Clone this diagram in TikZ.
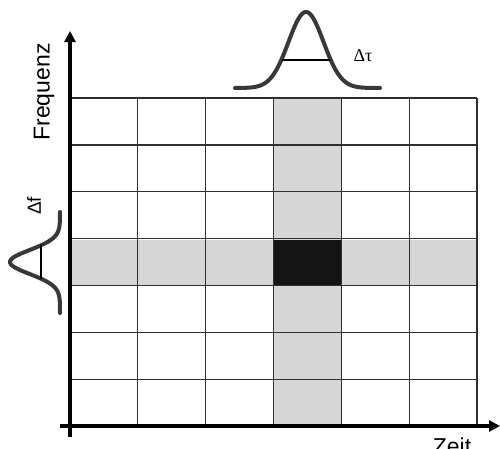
\documentclass[tikz,border=0pt]{standalone}
\usepackage{fontspec}
\setmainfont{Liberation Serif}
\setsansfont{Liberation Sans}
\usetikzlibrary{arrows.meta}
\definecolor{cellgray}{HTML}{D6D6D6}
\definecolor{cellblack}{HTML}{141414}
\definecolor{gridcol}{HTML}{303030}
\definecolor{curvecol}{HTML}{383838}
\tikzset{
  gridline/.style={draw=gridcol, line width=1.3pt},
  axisline/.style={draw=black, line width=3.5pt, -{Triangle[length=11pt,width=11pt]}},
  gauss/.style={draw=curvecol, line width=4pt, line cap=round},
  gaussbar/.style={draw=black, line width=2.2pt},
  axlabel/.style={font=\sffamily\fontsize{23}{23}\selectfont, inner sep=0pt},
}
\begin{document}
\begin{tikzpicture}[x=1pt, y=-1pt]
\useasboundingbox (0,0) rectangle (500,448);
\fill[white] (0,0) rectangle (500,448);
% highlighted column and row
\fill[cellgray] (273.2,98) rectangle (341,426);
\fill[cellgray] (70,239.6) rectangle (477,285.4);
\fill[cellblack] (273.2,239.6) rectangle (341,285.4);
% grid
\foreach \i in {1,...,6} {
  \draw[gridline] ({70+\i*67.83},98) -- ({70+\i*67.83},426);
}
\foreach \j in {0,...,6} {
  \draw[gridline] (70,{98+\j*46.86}) -- (477,{98+\j*46.86});
}
% axes
\coordinate (xs) at (60,426);
\coordinate (xe) at (500,426);
\coordinate (ys) at (70,437);
\coordinate (ye) at (70,31);
\draw[axisline] (xs) -- (xe);
\draw[axisline] (ys) -- (ye);
\node[axlabel, anchor=north] (zeit) at (452,437.5) {Zeit};
\node[axlabel, rotate=90] (freq) at (44,92) {Frequenz};
% top gaussian (time window)
\draw[gauss] plot[domain=235:380, samples=120, smooth] (\x, {88-76*exp(-((\x-306)^2)/(2*17.5*17.5))});
\draw[gaussbar] (282,60) -- (330,60);
\node[font=\rmfamily\fontsize{18}{18}\selectfont, inner sep=0pt] (dtau) at (363,56) {Δτ};
% left gaussian (frequency window)
\draw[gauss] plot[domain=212:313, samples=120, smooth] ({60-50*exp(-((\x-262)^2)/(2*12*12))}, \x);
\draw[gaussbar] (41,245) -- (41,279);
\node[font=\sffamily\fontsize{19}{19}\selectfont, inner sep=0pt, rotate=90] (df) at (34,206) {Δf};
\end{tikzpicture}
\end{document}
